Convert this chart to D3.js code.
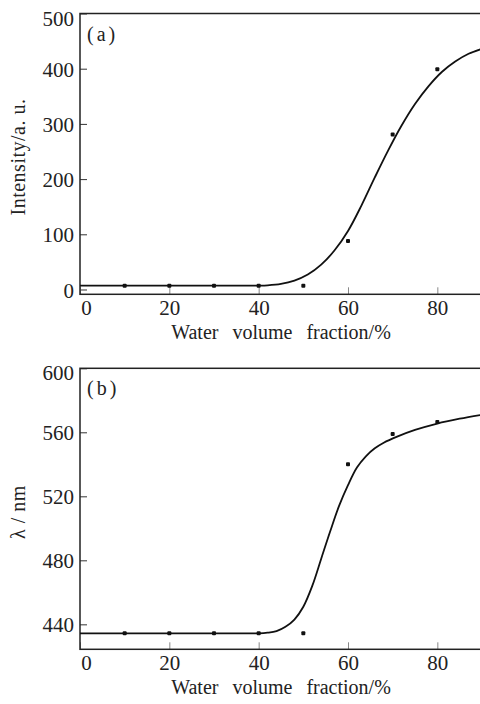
<!DOCTYPE html>
<html>
<head>
<meta charset="utf-8">
<script src="https://cdn.jsdelivr.net/npm/d3@7"></script>
<style>
  body { margin: 0; background: #fff; }
  text { font-family: "Liberation Serif", "DejaVu Serif", serif; fill: #222; }
</style>
</head>
<body>
<svg id="chart"></svg>
<script>
// measured points
const waterFraction = [10, 20, 30, 40, 50, 60, 70, 80];
const intensity = [7, 7, 7, 7, 7, 88, 281, 399];
const wavelength = [434.4, 434.4, 434.4, 434.4, 434.4, 540, 559, 566.5];

// fitted curves
const fitXA = [0, 10, 20, 30, 40, 42, 45, 48, 51, 54, 57, 60, 63, 66, 69, 72, 75, 78, 81, 84, 87, 90];
const fitYA = [7, 7, 7, 7, 7, 7.5, 10, 16, 27, 45, 71, 106, 152, 203, 252, 297, 336, 368, 394, 413, 427, 436];
const fitXB = [0, 10, 20, 30, 40, 42, 44, 46, 48, 50, 52, 54, 56, 58, 60, 62, 64, 66, 68, 71, 75, 80, 85, 90];
const fitYB = [434.4, 434.4, 434.4, 434.4, 434.4, 434.8, 435.8, 438.5, 443, 451, 464, 481, 498, 514, 527, 538, 545, 550, 553.5, 557.3, 561.5, 565.5, 568.5, 571];

const xTicks = [0, 20, 40, 60, 80];
const yTicksA = [0, 100, 200, 300, 400, 500];
const yTicksB = [440, 480, 520, 560, 600];

const svg = d3.select("#chart").attr("width", 480).attr("height", 704);

function panel(opts) {
  const left = 80, right = 482;
  const top = opts.top, bottom = opts.bottom;

  const x = d3.scaleLinear().domain([0, 90]).range([left, right]);
  const y = d3.scaleLinear().domain(opts.yDomain).range([bottom, top]);

  const g = svg.append("g");

  // y axis, ticks pointing inward
  const ya = g.append("g")
      .attr("transform", "translate(" + left + ",0)")
      .call(d3.axisLeft(y).tickValues(opts.yTicks).tickSize(-7).tickPadding(6));
  ya.select(".domain").remove();
  ya.selectAll("line").attr("stroke", "#333").attr("stroke-width", 1);
  ya.selectAll("text")
      .style("font-size", "21px")
      .attr("fill", "#222")
      .attr("dy", d => d === opts.yTicks[opts.yTicks.length - 1] ? "0.55em" : "0.36em");

  // x axis
  const xa = g.append("g")
      .attr("transform", "translate(0," + bottom + ")")
      .call(d3.axisBottom(x).tickValues(xTicks).tickSize(-7).tickPadding(6));
  xa.select(".domain").remove();
  xa.selectAll("line").attr("stroke", "#888").attr("stroke-width", 1);
  xa.selectAll("text")
      .style("font-size", "21px")
      .attr("fill", "#222")
      .attr("dx", d => d === 0 ? 6 : 0);

  // frame
  g.append("rect")
      .attr("x", left).attr("y", top)
      .attr("width", right - left).attr("height", bottom - top)
      .attr("fill", "none").attr("stroke", "#222").attr("stroke-width", 1.5);

  // fitted curve
  const line = d3.line()
      .x(d => x(d[0]))
      .y(d => y(d[1]))
      .curve(d3.curveCatmullRom.alpha(0.5));
  g.append("path")
      .datum(opts.fitX.map((v, i) => [v, opts.fitY[i]]))
      .attr("d", line)
      .attr("fill", "none")
      .attr("stroke", "#111")
      .attr("stroke-width", 1.8);

  // points
  g.selectAll(".pt")
    .data(waterFraction.map((v, i) => [v, opts.values[i]]))
    .enter().append("rect")
      .attr("class", "pt")
      .attr("x", d => x(d[0]) - 2)
      .attr("y", d => y(d[1]) - 2)
      .attr("width", 4).attr("height", 4)
      .attr("rx", 1)
      .attr("fill", "#111");

  // panel tag
  g.append("text")
      .attr("x", left + 7).attr("y", top + 27)
      .style("font-size", "20px")
      .style("letter-spacing", "3px")
      .text(opts.tag);

  // axis titles
  g.append("text")
      .attr("x", (left + right) / 2).attr("y", bottom + 45)
      .attr("text-anchor", "middle")
      .style("font-size", "20px")
      .style("word-spacing", "9px")
      .text("Water volume fraction/%");

  g.append("text")
      .attr("transform", "translate(25," + opts.yTitleY + ") rotate(-90)")
      .attr("text-anchor", "middle")
      .style("font-size", "20px")
      .style("letter-spacing", "0.5px")
      .text(opts.yTitle);
}

panel({
  top: 13.5, bottom: 294.3,
  yDomain: [-8.7, 500],
  yTicks: yTicksA,
  fitX: fitXA, fitY: fitYA,
  values: intensity,
  tag: "(a)",
  yTitle: "Intensity/a. u.",
  yTitleY: 157
});

panel({
  top: 368.3, bottom: 649.3,
  yDomain: [424.4, 600],
  yTicks: yTicksB,
  fitX: fitXB, fitY: fitYB,
  values: wavelength,
  tag: "(b)",
  yTitle: "λ / nm",
  yTitleY: 512
});
</script>
</body>
</html>
